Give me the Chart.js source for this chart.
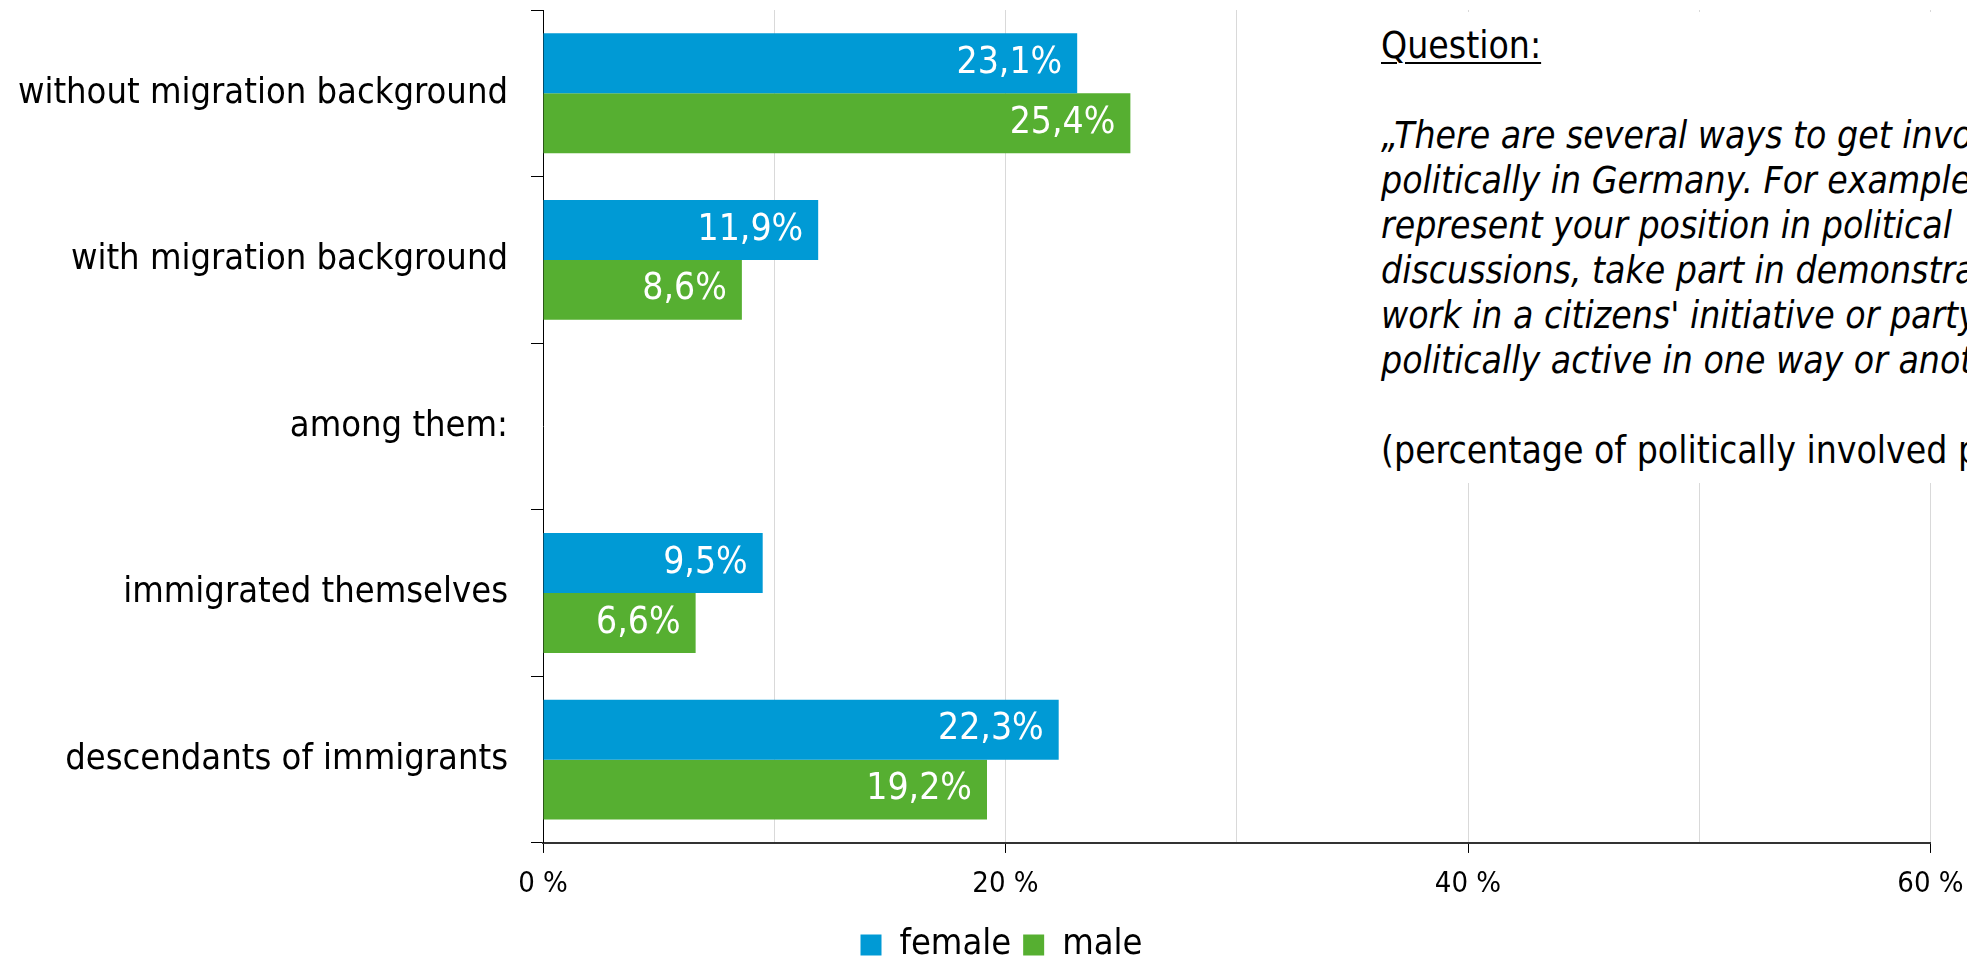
<!DOCTYPE html>
<html>
<head>
<meta charset="utf-8">
<script src="https://cdn.jsdelivr.net/npm/chart.js@4.4.1/dist/chart.umd.min.js"></script>
<style>
  html, body { margin: 0; padding: 0; overflow: hidden; background: #fff; }
  #wrap { position: absolute; left: 0; top: 0; width: 1967px; height: 973px; }
  #question {
    position: absolute; left: 1370px; top: 12px; width: 586px; height: 460px;
    padding: 11px 0 0 11px; background: #fff; overflow: hidden; white-space: nowrap;
    font-family: 'DejaVu Sans Condensed', 'DejaVu Sans', sans-serif;
    font-size: 37px; line-height: 45px; color: #000;
  }
  #question u { text-decoration-thickness: 2px; text-underline-offset: 4px; }
  #question i { font-style: italic; }
</style>
</head>
<body>
<div id="wrap"><canvas id="myChart"></canvas></div>
<div id="question">
  <u>Question:</u><br>
  <br>
  <i>„There are several ways to get involved</i><br>
  <i>politically in Germany. For example, you can</i><br>
  <i>represent your position in political</i><br>
  <i>discussions, take part in demonstrations,</i><br>
  <i>work in a citizens' initiative or party. Are you</i><br>
  <i>politically active in one way or another?“</i><br>
  <br>
  (percentage of politically involved persons)
</div>
<script>
const categories = ['without migration background', 'with migration background', 'among them:', 'immigrated themselves', 'descendants of immigrants'];
const femaleValues = [23.1, 11.9, null, 9.5, 22.3];
const maleValues = [25.4, 8.6, null, 6.6, 19.2];
const xMin = 0, xMax = 60, xStep = 10, xLabelStep = 20;

const FONT = "'DejaVu Sans Condensed', 'DejaVu Sans', sans-serif";
Chart.defaults.font.family = FONT;
Chart.defaults.color = '#000';

// white value labels inside the bar ends
const barLabels = {
  id: 'barLabels',
  afterDatasetsDraw(chart) {
    const ctx = chart.ctx;
    ctx.save();
    ctx.font = '37px ' + FONT;
    ctx.fillStyle = '#fff';
    ctx.textAlign = 'right';
    ctx.textBaseline = 'middle';
    chart.data.datasets.forEach((ds, i) => {
      chart.getDatasetMeta(i).data.forEach((bar, j) => {
        const v = ds.data[j];
        if (v === null) return;
        ctx.fillText(v.toFixed(1).replace('.', ',') + '%', bar.x - 15, bar.y);
      });
    });
    ctx.restore();
  }
};

// nudge the legend a bit right, like the original
const legendShift = {
  id: 'legendShift',
  afterLayout(chart) {
    chart.legend.left += 18;
    chart.legend.right += 18;
  }
};

const ctx = document.getElementById('myChart').getContext('2d');

new Chart(ctx, {
  type: 'bar',
  data: {
    labels: categories,
    datasets: [
      { label: 'female', data: femaleValues, backgroundColor: '#009ad5', borderWidth: 0 },
      { label: 'male', data: maleValues, backgroundColor: '#56af31', borderWidth: 0 }
    ]
  },
  options: {
    indexAxis: 'y',
    responsive: true,
    maintainAspectRatio: false,
    animation: false,
    categoryPercentage: 0.72,
    barPercentage: 1,
    layout: { padding: { left: 0, right: 0, top: 10, bottom: 0 } },
    scales: {
      x: {
        min: xMin,
        max: xMax,
        ticks: {
          stepSize: xStep,
          autoSkip: false,
          maxRotation: 0,
          padding: 0,
          font: { size: 29, lineHeight: 2.14 },
          callback: v => (v % xLabelStep === 0 ? v + ' %' : '')
        },
        grid: {
          color: c => (c.tick && c.tick.value === 0 ? 'rgba(0,0,0,0)' : '#d9d9d9'),
          tickColor: c => (c.tick && c.tick.value % xLabelStep === 0 ? '#000' : 'rgba(0,0,0,0)'),
          tickLength: 10,
          lineWidth: 1
        },
        border: { color: '#333', width: 2 },
        afterFit: s => { s.paddingLeft = 0; s.paddingRight = 36.5; }
      },
      y: {
        ticks: { font: { size: 36 }, padding: 23 },
        grid: { offset: true, drawOnChartArea: false, color: '#000', tickLength: 12 },
        border: { color: '#000', width: 1 },
        afterFit: s => { s.width = 543; s.paddingTop = 0; s.paddingBottom = 0; }
      }
    },
    plugins: {
      legend: {
        position: 'bottom',
        labels: { boxWidth: 21, boxHeight: 21, padding: 12, font: { size: 36 } }
      },
      tooltip: { enabled: false }
    }
  },
  plugins: [barLabels, legendShift]
});
</script>
</body>
</html>
